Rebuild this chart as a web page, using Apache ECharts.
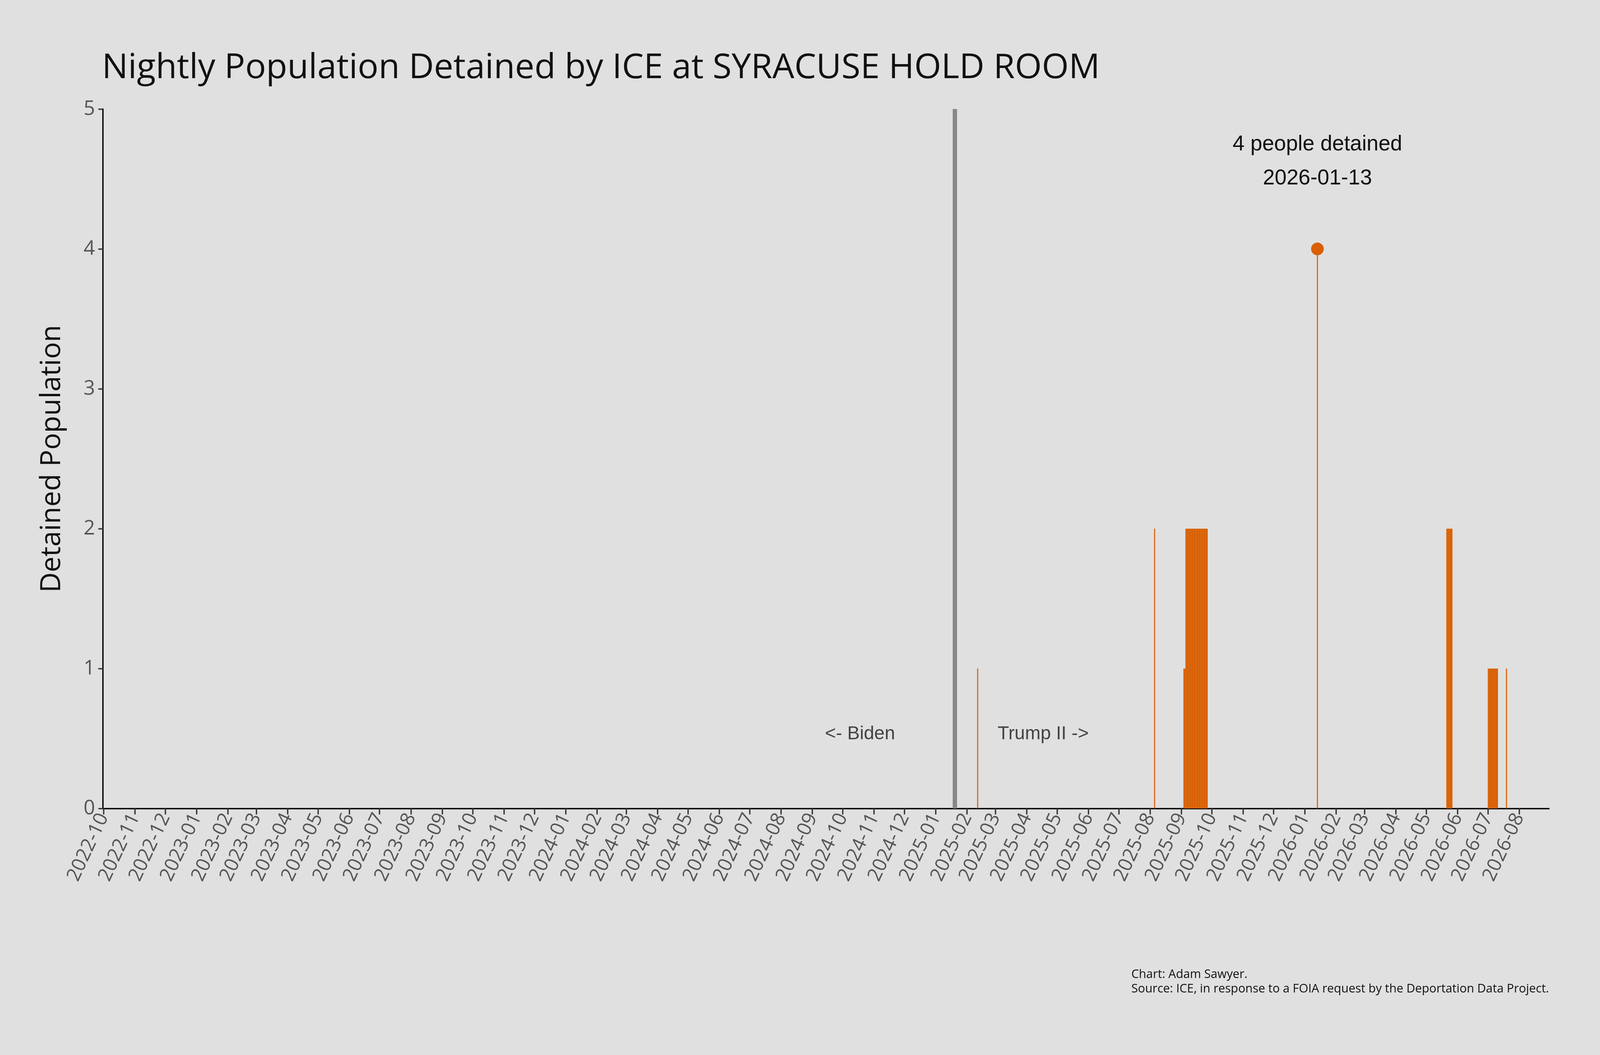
<!DOCTYPE html>
<html><head><meta charset="utf-8">
<script src="https://cdn.jsdelivr.net/npm/echarts@6/dist/echarts.min.js"></script>
<style>html,body{margin:0;padding:0;background:#e0e0e0;overflow:hidden;width:100%;height:100%}#c{width:100vw;height:100vh}</style>
</head><body><div id="c"></div>
<script>
const dates = ['2025-02-11','2025-08-05','2025-09-03','2025-09-04',
 '2025-09-05','2025-09-06','2025-09-07','2025-09-08','2025-09-09','2025-09-10','2025-09-11','2025-09-12',
 '2025-09-13','2025-09-14','2025-09-15','2025-09-16','2025-09-17','2025-09-18','2025-09-19','2025-09-20',
 '2025-09-21','2025-09-22','2025-09-23','2025-09-24','2025-09-25','2025-09-26',
 '2026-01-13',
 '2026-05-21','2026-05-22','2026-05-23','2026-05-24','2026-05-25','2026-05-26',
 '2026-07-01','2026-07-02','2026-07-03','2026-07-04','2026-07-05','2026-07-06','2026-07-07','2026-07-08','2026-07-09','2026-07-10',
 '2026-07-19'];
const values = [1,2,1,1,
 2,2,2,2,2,2,2,2,
 2,2,2,2,2,2,2,2,
 2,2,2,2,2,2,
 4,
 2,2,2,2,2,2,
 1,1,1,1,1,1,1,1,1,1,
 1];
const peakDate = '2026-01-13';
const peakValue = 4;
const inaugDate = '2025-01-20';
const axisStart = '2022-10-01';
const axisEnd = '2026-08-30';

const el = document.getElementById('c');
const W = el.clientWidth || 4800, H = el.clientHeight || 2700;
const sx = v => v * W / 4800, sy = v => v * H / 2700, sf = v => v * Math.min(W / 4800, H / 2700);
const t = d => new Date(d + 'T12:00:00Z').getTime();
const dayPx = sx(4338) / ((new Date(axisEnd) - new Date(axisStart)) / 864e5);
const chart = echarts.init(el);
const font = '"Open Sans", "Noto Sans", sans-serif';
chart.setOption({
  backgroundColor: '#e0e0e0',
  animation: false,
  title: { text: 'Nightly Population Detained by ICE at SYRACUSE HOLD ROOM', left: sx(300), top: sy(125),
    textStyle: { fontFamily: font, fontSize: sf(104), fontWeight: 'normal', color: '#111' } },
  grid: { left: sx(309), right: sx(153), top: sy(279), bottom: sy(631) },
  xAxis: {
    type: 'time', min: new Date(axisStart+'T00:00:00Z').getTime(), max: new Date(axisEnd+'T00:00:00Z').getTime(),
    minInterval: 28*864e5, maxInterval: 31*864e5, splitNumber: 50,
    axisLine: { lineStyle: { color: '#000', width: sf(4) } },
    axisTick: { show: true, length: sf(18), lineStyle: { color: '#333', width: sf(4) } },
    axisLabel: { rotate: 65, formatter: '{yyyy}-{MM}', fontFamily: font, fontSize: sf(58), color: '#555', margin: sf(18), hideOverlap: false },
    splitLine: { show: false }
  },
  yAxis: {
    type: 'value', min: 0, max: 5, interval: 1,
    name: 'Detained Population', nameLocation: 'middle', nameGap: sx(110),
    nameTextStyle: { fontFamily: font, fontSize: sf(84), color: '#111' },
    axisLine: { show: true, lineStyle: { color: '#000', width: sf(4) } },
    axisTick: { show: true, length: sf(14), lineStyle: { color: '#333', width: sf(4) } },
    axisLabel: { fontFamily: font, fontSize: sf(60), color: '#555', margin: sf(24) },
    splitLine: { show: false }
  },
  series: [
    { type: 'bar', barWidth: dayPx * 1.05, itemStyle: { color: '#d95f02' },
      data: dates.map((d,i) => [t(d), values[i]]),
      markLine: { silent: true, symbol: 'none', label: { show: false },
        lineStyle: { color: '#888', width: sx(13), type: 'solid', opacity: 1 },
        data: [{ xAxis: new Date(inaugDate+'T00:00:00Z').getTime() }] } },
    { type: 'scatter', symbolSize: sf(38), itemStyle: { color: '#d95f02', opacity: 1 },
      data: [[t(peakDate), peakValue]],
      label: { show: true, position: 'top', distance: sy(120), formatter: peakValue + ' people detained\n' + peakDate,
        fontFamily: '"Liberation Sans", Arial, sans-serif', fontSize: sf(64), lineHeight: sf(102), color: '#111', align: 'center' } }
  ],
  graphic: [
    { type: 'text', left: sx(2475), top: sy(1855), style: { text: '<- Biden', font: sf(56) + 'px "Liberation Sans", Arial', fill: '#444' } },
    { type: 'text', left: sx(2993), top: sy(1855), style: { text: 'Trump II ->', font: sf(56) + 'px "Liberation Sans", Arial', fill: '#444' } },
    { type: 'text', right: sx(153), top: sy(2475), style: { text: 'Chart: Adam Sawyer.\nSource: ICE, in response to a FOIA request by the Deportation Data Project.',
      font: sf(36) + 'px "Open Sans", sans-serif', fill: '#111', align: 'right', lineHeight: sf(44) } }
  ]
});
</script></body></html>
